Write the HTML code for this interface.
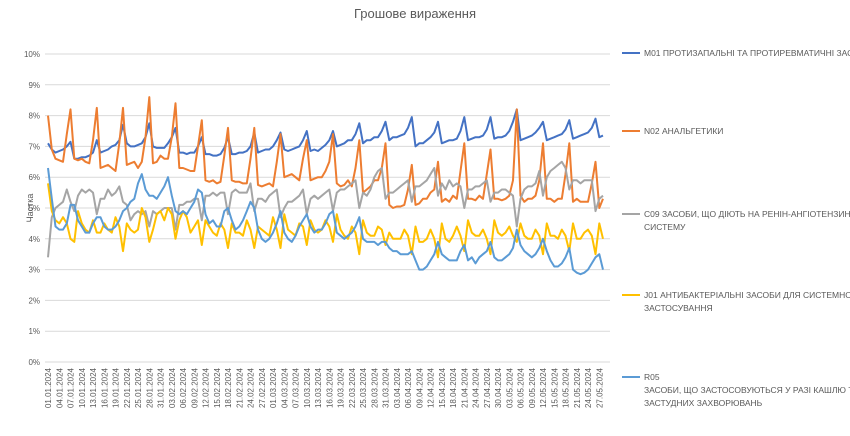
<!DOCTYPE html>
<html><head><meta charset="utf-8">
<style>
body{margin:0;background:#fff;font-family:"Liberation Sans",sans-serif;}
svg text{font-family:"Liberation Sans",sans-serif;fill:#595959;}
</style></head>
<body>
<svg id="chart" width="850" height="431" xmlns="http://www.w3.org/2000/svg">
<text x="415" y="18" font-size="13" text-anchor="middle" fill="#595959">Грошове вираження</text>
<text x="0" y="0" font-size="9" text-anchor="middle" transform="translate(33,208) rotate(-90)">Частка</text>
<g id="grid"></g>
<g id="yticks"></g>
<g id="xticks"></g>
<g id="series"></g>
<g id="legend"></g>
</svg>
<script>
const yTicks=[0,1,2,3,4,5,6,7,8,9,10];
const startDate=[2024,0,1];
const dayCount=149;
const m01=[7.1,6.9,6.8,6.85,6.9,7.0,7.15, 6.6,6.6,6.65,6.65,6.7,6.8,7.2, 6.8,6.85,6.9,7.0,7.05,7.2,7.7, 7.1,7.0,7.0,7.05,7.1,7.3,7.75, 7.0,6.95,6.95,6.95,7.1,7.3,7.6, 6.8,6.8,6.75,6.8,6.8,7.0,7.3, 6.75,6.75,6.7,6.7,6.75,6.95,7.3, 6.75,6.75,6.8,6.8,6.85,7.0,7.45, 6.8,6.85,6.9,6.9,7.0,7.2,7.45, 6.9,6.85,6.9,6.95,7.0,7.2,7.5, 6.85,6.9,6.85,6.95,7.05,7.2,7.5, 7.0,7.05,7.1,7.2,7.2,7.4,7.75, 7.1,7.2,7.2,7.3,7.3,7.5,7.8, 7.2,7.3,7.3,7.35,7.4,7.6,7.95, 7.0,7.1,7.1,7.2,7.3,7.45,7.8, 7.1,7.15,7.2,7.2,7.25,7.5,7.95, 7.2,7.25,7.3,7.3,7.35,7.55,7.95, 7.25,7.3,7.3,7.35,7.5,7.8,8.2, 7.2,7.25,7.3,7.35,7.45,7.6,7.8, 7.2,7.25,7.3,7.35,7.4,7.55,7.85, 7.25,7.3,7.35,7.4,7.45,7.6,7.9, 7.3,7.35];
const n02=[8.0,6.9,6.6,6.55,6.5,7.4,8.2, 6.6,6.55,6.6,6.5,6.45,7.2,8.25, 6.3,6.35,6.4,6.3,6.2,7.1,8.25, 6.4,6.45,6.5,6.3,6.5,7.3,8.6, 6.45,6.5,6.7,6.6,6.6,7.3,8.4, 6.3,6.3,6.25,6.2,6.2,7.0,7.85, 5.9,5.85,5.9,5.8,5.85,6.7,7.6, 5.9,5.85,5.85,5.8,5.8,6.6,7.6, 5.75,5.7,5.75,5.8,5.7,6.5,7.4, 6.0,6.05,6.1,6.0,5.9,6.6,7.2, 5.9,5.95,6.0,6.0,6.2,6.5,7.4, 5.8,5.7,5.75,5.9,5.7,6.3,7.2, 5.5,5.6,5.7,5.9,5.9,6.3,7.1, 5.1,5.0,5.05,5.05,5.1,5.6,6.4, 5.1,5.15,5.3,5.3,5.5,5.6,6.5, 5.2,5.3,5.2,5.4,5.3,6.2,7.1, 5.3,5.3,5.25,5.4,5.3,6.1,6.9, 5.3,5.3,5.25,5.3,5.4,5.9,8.2, 5.4,5.2,5.3,5.3,5.4,5.9,7.1, 5.3,5.3,5.2,5.3,5.3,6.1,7.1, 5.2,5.3,5.2,5.2,5.2,5.8,6.5, 5.0,5.3];
const c09=[3.4,4.7,5.0,5.1,5.2,5.6,5.2, 4.9,5.4,5.6,5.5,5.6,5.5,4.8, 5.3,5.3,5.6,5.4,5.5,5.7,5.2, 5.1,4.6,4.8,4.9,4.8,4.9,4.4, 4.9,4.8,4.9,5.0,5.0,5.0,4.3, 5.1,5.1,5.2,5.2,5.3,5.3,4.6, 5.4,5.4,5.5,5.4,5.5,5.5,4.8, 5.5,5.6,5.5,5.5,5.5,5.8,4.9, 5.3,5.3,5.2,5.4,5.5,5.6,4.7, 5.0,5.2,5.2,5.3,5.4,5.6,4.8, 5.3,5.4,5.3,5.4,5.5,5.6,4.9, 5.5,5.6,5.6,5.7,5.8,5.9,5.0, 5.5,5.4,5.6,6.0,6.2,6.3,5.3, 5.5,5.5,5.6,5.7,5.8,5.9,5.2, 5.7,5.7,5.8,5.9,6.1,6.3,5.4, 5.8,5.6,5.9,5.7,5.8,5.7,5.0, 5.6,5.6,5.7,5.7,5.8,5.9,5.2, 5.5,5.5,5.6,5.6,5.5,5.4,4.4, 5.3,5.6,5.7,5.7,5.8,6.2,5.4, 6.0,6.2,6.3,6.4,6.5,6.3,5.6, 5.9,5.9,5.8,5.9,5.9,5.9,4.9, 5.3,5.4];
const j01=[5.8,4.9,4.6,4.5,4.7,4.5,4.0, 3.9,4.9,4.5,4.3,4.2,4.6,4.2, 4.2,4.5,4.3,4.2,4.7,4.4,3.6, 4.5,4.3,4.2,4.3,5.0,4.7,3.9, 4.3,4.8,4.9,4.6,5.0,4.8,4.0, 4.6,4.9,4.7,4.2,4.4,4.6,3.8, 4.6,4.4,4.2,4.1,4.5,4.3,3.7, 4.5,4.2,4.2,4.1,4.6,4.3,3.7, 4.4,4.3,4.2,4.1,4.7,4.3,3.7, 4.8,4.3,4.2,4.1,4.5,4.4,3.8, 4.6,4.3,4.2,4.3,4.6,4.4,3.9, 4.8,4.3,4.1,4.0,4.4,4.2,3.5, 4.6,4.2,4.1,4.1,4.4,4.3,3.8, 4.2,4.0,4.0,4.0,4.3,4.1,3.5, 4.4,3.9,3.9,4.0,4.3,4.0,3.4, 4.5,4.0,3.9,4.1,4.4,4.1,3.6, 4.6,4.2,4.1,4.1,4.3,4.0,3.5, 4.6,4.2,4.1,4.2,4.4,4.1,3.9, 4.5,4.1,4.0,4.0,4.3,4.1,3.5, 4.5,4.1,4.1,4.0,4.3,4.1,3.6, 4.5,4.0,4.0,4.2,4.3,4.1,3.5, 4.5,4.0];
const r05=[6.3,5.3,4.4,4.3,4.3,4.5,5.1, 5.1,4.6,4.4,4.2,4.2,4.5,4.7, 4.7,4.4,4.3,4.3,4.4,4.6,4.9, 5.0,5.2,5.3,5.8,6.1,5.6,5.4, 5.4,5.3,5.5,5.7,6.0,5.4,4.9, 4.8,4.9,4.8,5.0,5.2,5.6,5.5, 4.8,4.5,4.6,4.4,4.4,4.9,5.0, 4.6,4.3,4.4,4.6,4.9,5.2,5.0, 4.3,4.0,3.9,4.0,4.2,4.5,4.9, 4.2,4.0,3.9,4.1,4.4,4.6,4.8, 4.4,4.2,4.3,4.3,4.5,4.8,4.9, 4.2,4.1,4.0,4.1,4.2,4.4,4.7, 4.0,3.9,3.9,3.9,3.8,3.9,3.9, 3.7,3.6,3.6,3.5,3.5,3.5,3.6, 3.3,3.0,3.0,3.1,3.3,3.5,3.9, 3.5,3.4,3.3,3.3,3.3,3.6,3.8, 3.3,3.4,3.2,3.4,3.5,3.6,3.9, 3.4,3.3,3.3,3.4,3.5,3.7,4.3, 3.8,3.6,3.5,3.4,3.5,3.7,4.0, 3.6,3.3,3.1,3.1,3.2,3.4,3.7, 3.0,2.9,2.85,2.9,3.0,3.2,3.4, 3.5,3.0];
const seriesNames=["m01","n02","c09","j01","r05"];
const seriesColors=["#4472C4","#ED7D31","#A5A5A5","#FFC000","#5B9BD5"];
const legendLabels=[["M01 ПРОТИЗАПАЛЬНІ ТА ПРОТИРЕВМАТИЧНІ ЗАСОБИ"],["N02 АНАЛЬГЕТИКИ"],["C09 ЗАСОБИ, ЩО ДІЮТЬ НА РЕНІН-АНГІОТЕНЗИНОВУ","СИСТЕМУ"],["J01 АНТИБАКТЕРІАЛЬНІ ЗАСОБИ ДЛЯ СИСТЕМНОГО","ЗАСТОСУВАННЯ"],["R05","ЗАСОБИ, ЩО ЗАСТОСОВУЮТЬСЯ У РАЗІ КАШЛЮ ТА","ЗАСТУДНИХ ЗАХВОРЮВАНЬ"]];
const allSeries=[m01,n02,c09,j01,r05];

const NS="http://www.w3.org/2000/svg";
const X0=48,X1=603,Y0=362,Y1=54,GX0=45,GX1=610;
function xPos(i){return X0+i*(X1-X0)/(dayCount-1);}
function yPos(v){return Y0-(v/10)*(Y0-Y1);}
function mk(tag,attrs,parent){const e=document.createElementNS(NS,tag);for(const k in attrs)e.setAttribute(k,attrs[k]);parent.appendChild(e);return e;}
const grid=document.getElementById('grid'),yt=document.getElementById('yticks'),xt=document.getElementById('xticks'),sg=document.getElementById('series'),lg=document.getElementById('legend');
yTicks.forEach(t=>{
  const l=mk('line',{x1:GX0,x2:GX1,y1:yPos(t),y2:yPos(t),stroke:'#d9d9d9','stroke-width':1},grid);
  
  
  const tx=mk('text',{x:40,y:yPos(t)+3,'font-size':8,'text-anchor':'end'},yt);
  
  
  tx.textContent=t+'%';
});
for(let i=0;i<dayCount;i+=3){
  const d=new Date(startDate[0],startDate[1],startDate[2]+i);
  const s=String(d.getDate()).padStart(2,'0')+'.'+String(d.getMonth()+1).padStart(2,'0')+'.'+d.getFullYear();
  const x=xPos(i)+3;
  const tx=mk('text',{x:0,y:0,'font-size':8,'text-anchor':'end',transform:`translate(${x},368) rotate(-90)`},xt);
  
  
  tx.textContent=s;
}
allSeries.forEach((arr,si)=>{
  const pts=arr.map((v,i)=>xPos(i).toFixed(1)+','+yPos(v).toFixed(1)).join(' ');
  const p=mk('polyline',{points:pts,fill:'none',stroke:seriesColors[si],'stroke-width':2,'stroke-linejoin':'round'},sg);
  
  
});
const legY=[53,131,214,295,377];
legendLabels.forEach((lines,i)=>{
  const g=mk('g',{},lg);
  
  
  mk('line',{x1:622,x2:640,y1:legY[i],y2:legY[i],stroke:seriesColors[i],'stroke-width':2},g);
  lines.forEach((t,j)=>{
    const tx=mk('text',{x:644,y:legY[i]+3+j*13,'font-size':8.5},g);
    tx.textContent=t;
  });
});
</script>
</body></html>
